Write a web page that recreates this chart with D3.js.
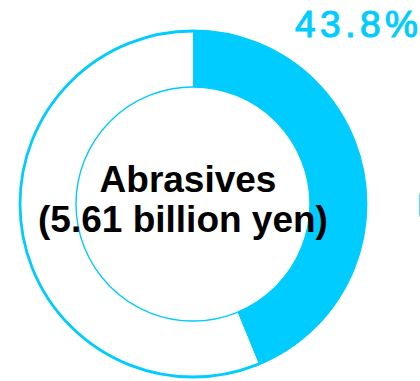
<!DOCTYPE html>
<html>
<head>
<meta charset="utf-8">
<script src="https://cdn.jsdelivr.net/npm/d3@7"></script>
<style>
  html, body { margin: 0; padding: 0; background: #ffffff; }
  svg { display: block; }
</style>
</head>
<body>
<svg id="chart" width="420" height="381"></svg>
<script>
// Segment share of net sales (percent)
const segments = ["Abrasives", "Other"];
const shares = [43.8, 56.2];
const centerLines = ["Abrasives", "(5.61 billion yen)"];
const shareLabel = "43.8%";

const W = 420, H = 381;
const cx = 193, cy = 204;
const outerR = 174, innerR = 117;
const cyan = "#00CCFF";

const svg = d3.select("#chart");
const g = svg.append("g").attr("transform", `translate(${cx},${cy})`);

const pie = d3.pie().sort(null).value(d => d.v);
const arcs = pie(segments.map((s, i) => ({ name: s, v: shares[i] })));
const arc = d3.arc().innerRadius(innerR).outerRadius(outerR);

g.selectAll("path.seg")
  .data(arcs)
  .join("path")
  .attr("class", "seg")
  .attr("d", arc)
  .attr("fill", (d, i) => i === 0 ? cyan : "#ffffff");

// outline of the ring
g.append("circle").attr("r", outerR - 1).attr("fill", "none")
  .attr("stroke", cyan).attr("stroke-width", 2.8);
g.append("circle").attr("r", innerR).attr("fill", "none")
  .attr("stroke", cyan).attr("stroke-width", 1.4);

// centre caption
const cap = g.append("text")
  .attr("text-anchor", "middle")
  .attr("font-family", "Liberation Sans, Arial, sans-serif")
  .attr("font-weight", "bold")
  .attr("font-size", 37)
  .attr("fill", "#000");
cap.selectAll("tspan").data(centerLines).join("tspan")
  .attr("x", (d, i) => i === 0 ? -5 : -10)
  .attr("y", (d, i) => -12 + i * 40)
  .text(d => d);

// share label (runs off the right edge of the panel)
svg.append("text")
  .attr("x", 295).attr("y", 36.5)
  .attr("font-family", "Liberation Sans, Arial, sans-serif")
  .attr("font-size", 37)
  .attr("letter-spacing", 4.5)
  .attr("fill", cyan)
  .attr("stroke", cyan)
  .attr("stroke-width", 1.1)
  .text(shareLabel);

// edge of the neighbouring item
svg.append("rect")
  .attr("x", 419.5).attr("y", 189).attr("width", 30).attr("height", 32)
  .attr("rx", 7).attr("fill", "none")
  .attr("stroke", cyan).attr("stroke-opacity", 0.7).attr("stroke-width", 1);
</script>
</body>
</html>
